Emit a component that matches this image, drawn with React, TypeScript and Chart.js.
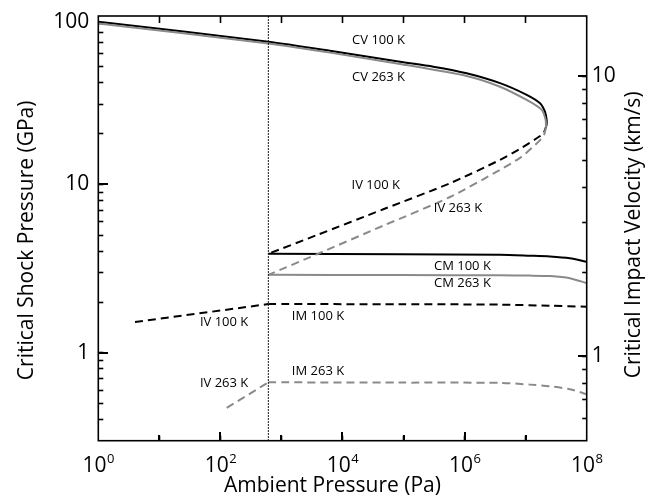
import React, { useEffect, useRef } from "react";
import { Chart, registerables } from "chart.js";

Chart.register(...registerables);

const TRIPLE_POINT_PA = 611.657;
const X_MIN = 1;
const X_MAX = 1e8;
const GPA_MIN = 0.3;
const GPA_MAX = 100;
const KMS_MIN = 0.5;
const KMS_MAX = 16.4;

// CV branches
const CV100_P = [1, 612, 6240, 8.75e4, 3.07e5, 1.08e6, 3.8e6, 1.04e7, 1.72e7, 2.07e7, 2.21e7, 2.21e7];
const CV100_G = [92.5, 70.4, 62.2, 53.5, 50.0, 45.7, 39.9, 34.0, 30.3, 27.0, 24.1, 22.6];
const CV263_P = [1, 612, 6240, 8.75e4, 1.08e6, 3.8e6, 1.04e7, 1.83e7, 2.13e7, 2.15e7];
const CV263_G = [90.3, 68.7, 60.6, 51.9, 44.0, 38.0, 31.7, 27.7, 24.1, 21.8];

// IV upper branches (from the nose back to the triple point)
const IV100_UP_P = [2.21e7, 1.95e7, 1.42e7, 8.08e6, 3.8e6, 5.77e5, 4.66e4, 3776, 611.657];
const IV100_UP_G = [22.6, 20.1, 18.5, 16.25, 13.97, 10.15, 7.11, 4.99, 3.87];
const IV263_UP_P = [2.15e7, 1.95e7, 1.27e7, 8.08e6, 3.8e6, 5.77e5, 4.66e4, 3776, 611.657];
const IV263_UP_G = [21.8, 19.27, 16.47, 14.37, 12.19, 8.41, 5.68, 3.84, 2.9];

// IV lower branches (below the triple point)
const IV100_LO_P = [3.99, 611.657];
const IV100_LO_G = [1.52, 1.945];
const IV263_LO_P = [127, 611.657];
const IV263_LO_G = [0.47, 0.667];

// CM branches
const CM100_P = [611.657, 8.75e4, 3.8e6, 1.18e7, 2.5e7, 5.3e7, 1e8];
const CM100_G = [3.87, 3.84, 3.82, 3.77, 3.73, 3.64, 3.47];
const CM263_P = [611.657, 8.75e4, 3.8e6, 1.18e7, 2.5e7, 5.3e7, 1e8];
const CM263_G = [2.9, 2.89, 2.88, 2.87, 2.85, 2.77, 2.59];

// IM branches
const IM100_P = [611.657, 8.75e4, 3.8e6, 2.5e7, 1e8];
const IM100_G = [1.945, 1.94, 1.93, 1.9, 1.875];
const IM263_P = [611.657, 8.75e4, 3.8e6, 1.18e7, 2.5e7, 5.3e7, 1e8];
const IM263_G = [0.667, 0.664, 0.662, 0.646, 0.631, 0.607, 0.567];

// In-plot text labels
const LABEL_TEXT = ["CV 100 K", "CV 263 K", "IV 100 K", "IV 263 K", "CM 100 K", "CM 263 K", "IM 100 K", "IV 100 K", "IM 263 K", "IV 263 K"];
const LABEL_P = [3.9e4, 3.9e4, 3.5e4, 7.8e5, 9.2e5, 9.2e5, 3970, 115, 3970, 115];
const LABEL_G = [72, 43.5, 9.9, 7.16, 3.28, 2.57, 1.64, 1.52, 0.77, 0.655];

// tick labels
const X_LABEL_EXPONENTS = [0, 2, 4, 6, 8];
const Y_LABELS = [1, 10, 100];
const Y1_LABELS = [1, 10];
const X_TITLE = "Ambient Pressure (Pa)";
const Y_TITLE = "Critical Shock Pressure (GPa)";
const Y1_TITLE = "Critical Impact Velocity (km/s)";

const BLACK = "#000000";
const GRAY = "#8a8a8a";
const CLEAR = "rgba(0,0,0,0)";
const FONT = "'Open Sans', 'Noto Sans', sans-serif";

const zip = (p: number[], g: number[]) => p.map((x, i) => ({ x, y: g[i] }));

const isPow10 = (v: number) => {
  const e = Math.log10(v);
  return Math.abs(e - Math.round(e)) < 1e-7;
};
const isNice = (v: number) => {
  const e = Math.floor(Math.log10(v) + 1e-9);
  const m = v / Math.pow(10, e);
  return Math.abs(m - Math.round(m)) < 1e-6;
};

// inward tick marks drawn by Chart.js itself (negative tick length)
const decadeTickColor = (c: any) => {
  const v = c && c.tick ? c.tick.value : NaN;
  return v > X_MIN * 1.001 && v < X_MAX * 0.999 && isPow10(v) ? BLACK : CLEAR;
};
const niceTickColor = (min: number, max: number) => (c: any) => {
  const v = c && c.tick ? c.tick.value : NaN;
  return v > min * 1.001 && v < max * 0.999 && isNice(v) ? BLACK : CLEAR;
};
const inwardGrid = (len: number, color: any) => ({
  display: true,
  drawOnChartArea: false,
  drawTicks: true,
  tickLength: -len,
  tickWidth: 1.6,
  tickColor: color,
});

const overlayPlugin = {
  id: "overlay",
  afterDraw(chart: any) {
    const ctx = chart.ctx;
    const a = chart.chartArea;
    const xs = chart.scales.x;
    const ys = chart.scales.y;
    const y1 = chart.scales.y1;
    ctx.save();
    ctx.setLineDash([]);

    // longer major ticks
    ctx.fillStyle = BLACK;
    for (let e = 1; e < 8; e++) {
      const px = Math.round(xs.getPixelForValue(Math.pow(10, e)));
      ctx.fillRect(px - 1, Math.round(a.bottom) - (e % 2 === 0 ? 9 : 6), 2, e % 2 === 0 ? 9 : 6);
    }
    [1, 10].forEach((v) => {
      const py = Math.round(ys.getPixelForValue(v));
      ctx.fillRect(Math.round(a.left), py - 1, 10, 2);
      const q = Math.round(y1.getPixelForValue(v));
      ctx.fillRect(Math.round(a.right) - 9, q - 1, 9, 2);
    });

    // frame
    ctx.lineWidth = 1.6;
    ctx.strokeStyle = BLACK;
    ctx.strokeRect(a.left, a.top, a.right - a.left, a.bottom - a.top);

    ctx.fillStyle = BLACK;
    // y tick labels
    ctx.font = `21px ${FONT}`;
    ctx.textBaseline = "middle";
    ctx.textAlign = "right";
    Y_LABELS.forEach((v) => {
      const py = Math.max(ys.getPixelForValue(v), a.top + 6);
      ctx.fillText(String(v), a.left - 9, py);
    });
    ctx.textAlign = "left";
    Y1_LABELS.forEach((v) => {
      ctx.fillText(String(v), a.right + 5, y1.getPixelForValue(v));
    });

    // x tick labels with superscripts
    ctx.textBaseline = "alphabetic";
    X_LABEL_EXPONENTS.forEach((e) => {
      const px = xs.getPixelForValue(Math.pow(10, e));
      ctx.font = `21px ${FONT}`;
      const w1 = ctx.measureText("10").width;
      ctx.font = `13px ${FONT}`;
      const w2 = ctx.measureText(String(e)).width;
      const x0 = px - (w1 + w2) / 2;
      ctx.font = `21px ${FONT}`;
      ctx.fillText("10", x0, a.bottom + 31);
      ctx.font = `13px ${FONT}`;
      ctx.fillText(String(e), x0 + w1 + 0.5, a.bottom + 22.5);
    });

    // axis titles
    ctx.font = `21px ${FONT}`;
    ctx.textAlign = "center";
    ctx.fillText(X_TITLE, (a.left + a.right) / 2 - 10, a.bottom + 51);
    ctx.save();
    ctx.translate(a.left - 65, (a.top + a.bottom) / 2 + 12);
    ctx.rotate(-Math.PI / 2);
    ctx.fillText(Y_TITLE, 0, 0);
    ctx.restore();
    ctx.save();
    ctx.translate(a.right + 53.5, (a.top + a.bottom) / 2 + 6.5);
    ctx.rotate(-Math.PI / 2);
    ctx.fillText(Y1_TITLE, 0, 0);
    ctx.restore();

    // in-plot labels
    ctx.font = `13px ${FONT}`;
    ctx.textBaseline = "middle";
    LABEL_TEXT.forEach((txt, i) => {
      ctx.fillText(txt, xs.getPixelForValue(LABEL_P[i]), ys.getPixelForValue(LABEL_G[i]));
    });
    ctx.restore();
  },
};

const solid = (label: string, p: number[], g: number[], color: string) => ({
  label,
  data: zip(p, g),
  showLine: true,
  borderColor: color,
  backgroundColor: color,
  borderWidth: 2,
  pointRadius: 0,
  tension: 0.25,
  xAxisID: "x",
  yAxisID: "y",
});
const dashed = (label: string, p: number[], g: number[], color: string, tension = 0.25) => ({
  ...solid(label, p, g, color),
  borderDash: [8, 5],
  tension,
});

export default function App() {
  const ref = useRef<HTMLCanvasElement | null>(null);
  useEffect(() => {
    document.body.style.margin = "0";
    if (!ref.current) return;
    const chart = new Chart(ref.current, {
      type: "scatter",
      data: {
        datasets: [
          {
            label: "triple point",
            data: [
              { x: TRIPLE_POINT_PA, y: GPA_MIN },
              { x: TRIPLE_POINT_PA, y: GPA_MAX },
            ],
            showLine: true,
            borderColor: BLACK,
            borderWidth: 1.2,
            borderDash: [1.5, 1.5],
            pointRadius: 0,
            xAxisID: "x",
            yAxisID: "y",
          },
          solid("CV 263 K", CV263_P, CV263_G, GRAY),
          solid("CV 100 K", CV100_P, CV100_G, BLACK),
          dashed("IV 263 K", IV263_UP_P, IV263_UP_G, GRAY),
          dashed("IV 100 K", IV100_UP_P, IV100_UP_G, BLACK),
          dashed("IV 263 K low", IV263_LO_P, IV263_LO_G, GRAY, 0),
          dashed("IV 100 K low", IV100_LO_P, IV100_LO_G, BLACK, 0),
          solid("CM 263 K", CM263_P, CM263_G, GRAY),
          solid("CM 100 K", CM100_P, CM100_G, BLACK),
          dashed("IM 263 K", IM263_P, IM263_G, GRAY),
          dashed("IM 100 K", IM100_P, IM100_G, BLACK),
        ] as any,
      },
      options: {
        responsive: false,
        maintainAspectRatio: false,
        devicePixelRatio: 1,
        animation: false,
        layout: { padding: { top: 16, left: 0, right: 0, bottom: 0 } },
        plugins: { legend: { display: false }, tooltip: { enabled: false } },
        scales: {
          x: {
            type: "logarithmic",
            position: "bottom",
            min: X_MIN,
            max: X_MAX,
            grid: inwardGrid(5, decadeTickColor),
            border: { display: false },
            ticks: { display: false, autoSkip: false },
            afterFit: (s: any) => {
              s.height = 59.3;
              s.paddingLeft = 0;
              s.paddingRight = 0;
            },
          },
          xTop: {
            type: "logarithmic",
            position: "top",
            min: X_MIN,
            max: X_MAX,
            grid: inwardGrid(7, decadeTickColor),
            border: { display: false },
            ticks: { display: false, autoSkip: false },
            afterFit: (s: any) => {
              s.height = 0;
              s.paddingLeft = 0;
              s.paddingRight = 0;
            },
          },
          y: {
            type: "logarithmic",
            position: "left",
            min: GPA_MIN,
            max: GPA_MAX,
            grid: inwardGrid(5, niceTickColor(GPA_MIN, GPA_MAX)),
            border: { display: false },
            ticks: { display: false, autoSkip: false },
            afterFit: (s: any) => {
              s.width = 98.3;
              s.paddingTop = 0;
              s.paddingBottom = 0;
            },
          },
          y1: {
            type: "logarithmic",
            position: "right",
            display: true,
            min: KMS_MIN,
            max: KMS_MAX,
            grid: inwardGrid(4.5, niceTickColor(KMS_MIN, KMS_MAX)),
            border: { display: false },
            ticks: { display: false, autoSkip: false },
            afterFit: (s: any) => {
              s.width = 59.3;
              s.paddingTop = 0;
              s.paddingBottom = 0;
            },
          },
        },
      } as any,
      plugins: [overlayPlugin],
    });
    return () => chart.destroy();
  }, []);
  return <canvas ref={ref} width={646} height={500} style={{ display: "block" }} />;
}
